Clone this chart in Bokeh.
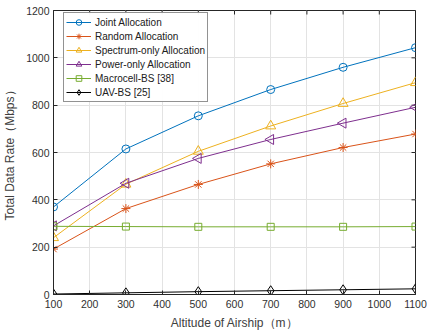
import numpy as np
from bokeh.plotting import figure
from bokeh.models import Range1d, Legend, LegendItem, FixedTicker
from bokeh.embed import file_html
from bokeh.resources import INLINE

altitude = [100, 300, 500, 700, 900, 1100]
joint = [370, 615, 755, 866, 960, 1043]
random_alloc = [192, 363, 465, 552, 621, 678]
spectrum = [240, 466, 605, 712, 807, 895]
power = [290, 470, 575, 655, 724, 791]
macro = [288, 287, 286, 286, 286, 287]
uav = [2, 7, 12, 16, 20, 24]

x_ticks = [100, 200, 300, 400, 500, 600, 700, 800, 900, 1000, 1100]
y_ticks = [0, 200, 400, 600, 800, 1000, 1200]

FONT = "Liberation Sans"
TXT = "#303030"
LBL = "#404040"
FRAME = "#262626"

p = figure(width=427, height=335, output_backend="svg", toolbar_location=None,
           x_range=Range1d(100, 1100), y_range=Range1d(0, 1200),
           min_border_left=53, min_border_top=10, min_border_right=12, min_border_bottom=41)
p.outline_line_color = FRAME
p.outline_line_width = 1
p.background_fill_color = "white"

for ax in (p.xaxis[0], p.yaxis[0]):
    ax.major_tick_in = 4
    ax.major_tick_out = 0
    ax.minor_tick_line_color = None
    ax.axis_line_color = FRAME
    ax.major_tick_line_color = FRAME
    ax.major_label_text_font = FONT
    ax.major_label_text_font_size = "10.5px"
    ax.major_label_text_color = TXT
    ax.axis_label_text_font = FONT
    ax.axis_label_text_font_size = "12px"
    ax.axis_label_text_font_style = "normal"
    ax.axis_label_text_color = LBL
p.xaxis[0].ticker = FixedTicker(ticks=x_ticks)
p.yaxis[0].ticker = FixedTicker(ticks=y_ticks)
p.xaxis[0].axis_label = "Altitude of Airship（m）"
p.yaxis[0].axis_label = "Total Data Rate（Mbps）"
p.xaxis[0].major_label_standoff = 5
p.yaxis[0].major_label_standoff = 4
p.xaxis[0].axis_label_standoff = 5
p.yaxis[0].axis_label_standoff = 6

p.xgrid.ticker = FixedTicker(ticks=x_ticks)
p.ygrid.ticker = FixedTicker(ticks=y_ticks)
p.xgrid.grid_line_color = "#e3e3e3"
p.ygrid.grid_line_color = "#e3e3e3"

# inward ticks on the top and right edges of the box
p.ray(x=x_ticks, y=1200, length=4, length_units="screen", angle=-np.pi / 2,
      line_color=FRAME, line_width=1)
p.ray(x=1100, y=y_ticks, length=4, length_units="screen", angle=np.pi,
      line_color=FRAME, line_width=1)

series = [
    ("Joint Allocation", joint, "#0072BD", "circle", 8, 0),
    ("Random Allocation", random_alloc, "#D95319", "asterisk", 9, 0),
    ("Spectrum-only Allocation", spectrum, "#EDB120", "triangle", 10, 0),
    ("Power-only Allocation", power, "#7E2F8E", "triangle", 10, np.pi / 2),
    ("Macrocell-BS [38]", macro, "#77AC30", "square", 7, 0),
    ("UAV-BS [25]", uav, "#000000", "diamond", 10, 0),
]

items = []
for label, ys, color, marker, size, ang in series:
    l = p.line(altitude, ys, line_color=color, line_width=1)
    s = p.scatter(altitude, ys, marker=marker, size=size, angle=ang,
                  line_color=color, fill_color=None, line_width=1)
    items.append(LegendItem(label=label, renderers=[l, s]))

legend = Legend(items=items, location=(10, 192))
legend.label_text_font = FONT
legend.label_text_font_size = "10px"
legend.label_text_color = "#202020"
legend.border_line_color = FRAME
legend.border_line_width = 1
legend.glyph_width = 25
legend.glyph_height = 14
legend.label_height = 14
legend.spacing = 0
legend.padding = 2
legend.margin = 0
legend.label_standoff = 4
p.add_layout(legend, "center")

open("out.html", "w").write(file_html(p, INLINE))
